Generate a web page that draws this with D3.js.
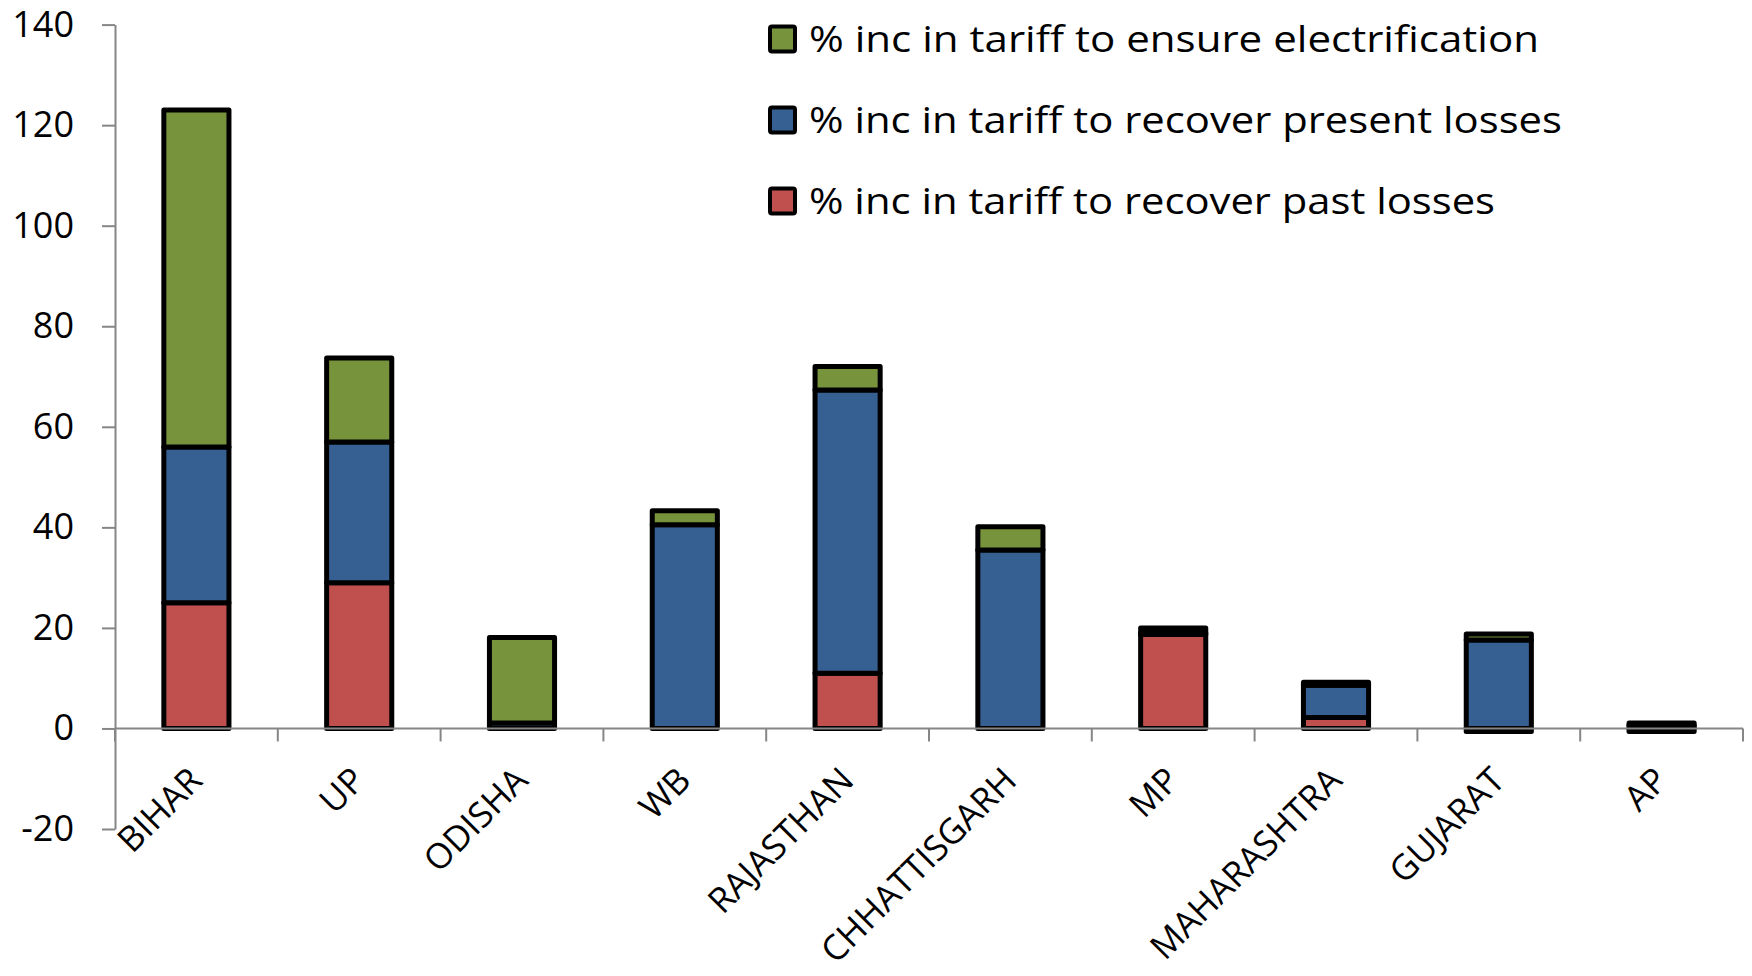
<!DOCTYPE html>
<html><head><meta charset="utf-8">
<script src="https://cdn.jsdelivr.net/npm/d3@7/dist/d3.min.js"></script>
<style>body{margin:0;background:#fff}svg{display:block}</style>
</head><body>
<svg id="c" width="1752" height="976"></svg>
<script>
const categories = ["BIHAR","UP","ODISHA","WB","RAJASTHAN","CHHATTISGARH","MP","MAHARASHTRA","GUJARAT","AP"];
const pastLosses      = [25, 29, 0, 0, 11, 0, 18.7, 2.2, -0.6, -0.6];
const presentLosses   = [31, 28, 1.1, 40.5, 56.3, 35.5, 0.3, 6.4, 17.6, 0.6];
const electrification = [67, 16.7, 17, 2.8, 4.7, 4.6, 1, 0.6, 1.2, 0.5];
const seriesNames = ["% inc in tariff to recover past losses","% inc in tariff to recover present losses","% inc in tariff to ensure electrification"];
const seriesColors = ["#C0504D","#376092","#77933C"];
const yTicks = [-20,0,20,40,60,80,100,120,140];

const svg = d3.select("#c");
const L = 115, R = 1743, T = 24.6, B = 829;
const x = d3.scaleBand().domain(categories).range([L,R]).paddingInner(0.6).paddingOuter(0.3);
const y = d3.scaleLinear().domain([-20,140]).range([B,T]);
const step = x.step();

const rows = categories.map((c,i)=>({cat:c, s0:pastLosses[i], s1:presentLosses[i], s2:electrification[i]}));
const stack = d3.stack().keys(["s0","s1","s2"]).offset(d3.stackOffsetDiverging);
const layers = stack(rows);

const g = svg.append("g");
layers.forEach((layer,li)=>{
  g.selectAll(null).data(layer).enter().append("rect")
    .attr("x", d=>x(d.data.cat))
    .attr("width", x.bandwidth())
    .attr("y", d=>y(Math.max(d[0],d[1])))
    .attr("height", d=>Math.abs(y(d[0])-y(d[1])))
    .attr("fill", seriesColors[li])
    .attr("stroke","#000").attr("stroke-width",5).attr("stroke-linejoin","round");
});

const axisColor = "#868686";
const ya = svg.append("g").attr("transform",`translate(${L},0)`)
  .call(d3.axisLeft(y).tickValues(yTicks).tickSize(13).tickPadding(28).tickSizeOuter(0)
    .tickFormat(d=>String(d)));
ya.select(".domain").attr("stroke",axisColor).attr("stroke-width",2);
ya.selectAll(".tick line").attr("stroke",axisColor).attr("stroke-width",2);
ya.selectAll("text").attr("font-family","'Open Sans'").attr("font-size",36).attr("fill","#000");

const y0 = y(0);
svg.append("line").attr("x1",L).attr("x2",R).attr("y1",y0).attr("y2",y0)
  .attr("stroke",axisColor).attr("stroke-width",2);
const bounds = categories.map(c=>x(c)-step*0.3).concat([R]);
svg.selectAll(null).data(bounds).enter().append("line")
  .attr("x1",d=>d).attr("x2",d=>d).attr("y1",y0).attr("y2",y0+13)
  .attr("stroke",axisColor).attr("stroke-width",2);

svg.selectAll(null).data(categories).enter().append("text")
  .attr("transform",c=>`translate(${x(c)+x.bandwidth()/2+8},${y0+54}) rotate(-45)`)
  .attr("text-anchor","end").attr("font-family","'Open Sans'").attr("font-size",35)
  .text(c=>c);

const legendOrder = [2,1,0];
const legendY = [39,120,201];
const legendW = [730,753,686];
legendOrder.forEach((si,k)=>{
  svg.append("rect").attr("x",770).attr("y",legendY[k]-12.5).attr("width",25).attr("height",25)
    .attr("fill",seriesColors[si]).attr("stroke","#000").attr("stroke-width",4).attr("rx",2);
  svg.append("text").attr("x",809).attr("y",legendY[k]).attr("dy","0.36em")
    .attr("font-family","'Open Sans'").attr("font-size",37)
    .attr("textLength",legendW[k]).attr("lengthAdjust","spacingAndGlyphs")
    .text(seriesNames[si]);
});
</script>
</body></html>
